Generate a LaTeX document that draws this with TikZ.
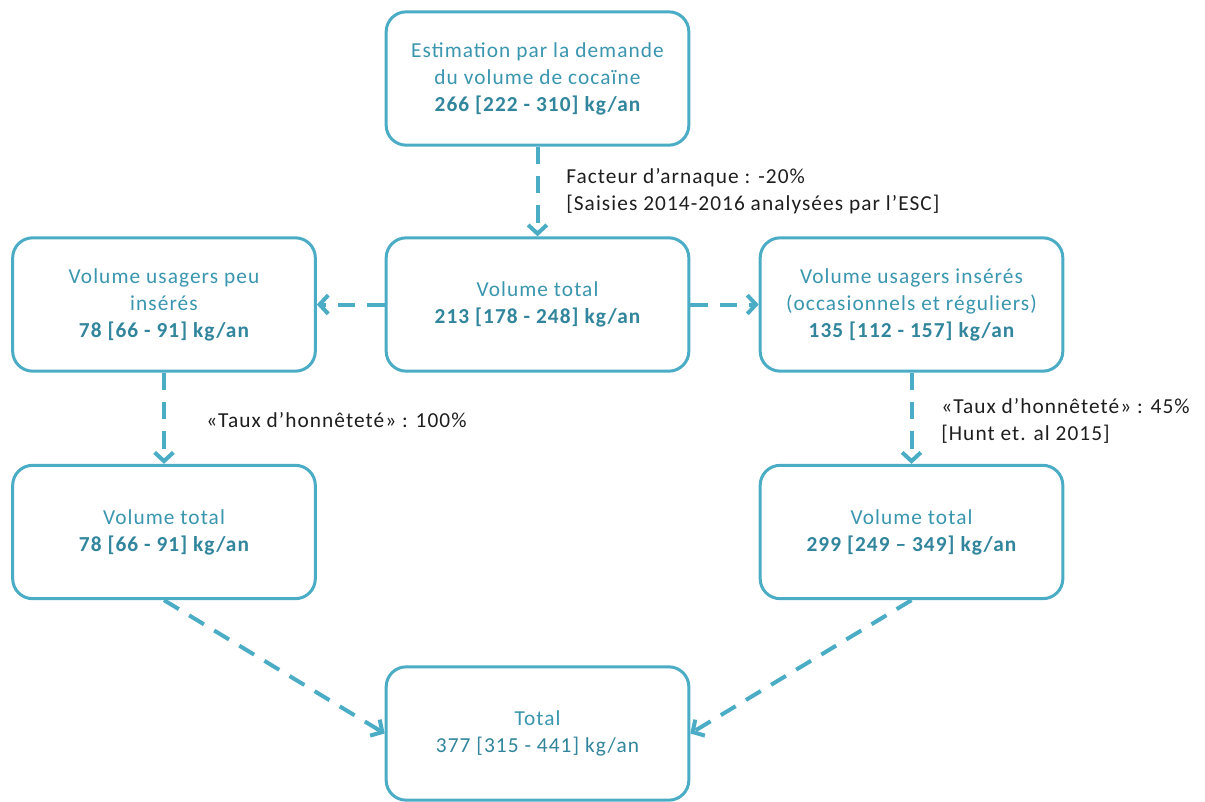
\documentclass[tikz,border=0pt]{standalone}
\usepackage{fontspec}
\setmainfont{Carlito}[LetterSpace=5]
\usetikzlibrary{arrows.meta}
\definecolor{boxline}{HTML}{4BACC6}
\definecolor{boxtext}{HTML}{3A96AF}
\definecolor{boxnum}{HTML}{31859C}
\definecolor{lbl}{HTML}{1E1E1E}
\begin{document}
\begin{tikzpicture}[x=0.75pt,y=-0.75pt,
  box/.style={draw=boxline, line width=2.25pt, rounded corners=15pt, fill=white,
    align=center, text=boxtext, inner sep=0pt,
    minimum width=227pt, minimum height=100pt,
    font=\fontsize{16}{20.25}\selectfont},
  lab/.style={anchor=west, align=left, text=lbl, inner sep=0pt,
    font=\fontsize{16}{20.25}\selectfont},
  conn/.style={draw=boxline, line width=3pt, dash pattern=on 13pt off 9pt,
    -{Straight Barb[length=6.5pt,width=14pt]}}]
\useasboundingbox (0,0) rectangle (1205,802);
\node[box] (top) at (537.5,78.5) {Estimation par la demande\\du volume de cocaïne\\\textbf{\color{boxnum}266 [222 - 310] kg/an}};
\node[box] (mid) at (537.5,304.5) {Volume total\\\textbf{\color{boxnum}213 [178 - 248] kg/an}};
\node[box] (left) at (164,304.5) {Volume usagers peu\\insérés\\\textbf{\color{boxnum}78 [66 - 91] kg/an}};
\node[box] (right) at (911.5,304.5) {Volume usagers insérés\\(occasionnels et réguliers)\\\textbf{\color{boxnum}135 [112 - 157] kg/an}};
\node[box] (bl) at (164,532) {Volume total\\\textbf{\color{boxnum}78 [66 - 91] kg/an}};
\node[box] (br) at (911.5,532) {Volume total\\\textbf{\color{boxnum}299 [249 – 349] kg/an}};
\node[box] (total) at (537.5,733.5) {Total\\{\color{boxnum}377 [315 - 441] kg/an}};
\draw[conn] (top) -- (mid);
\draw[conn] (mid) -- (left);
\draw[conn] (mid) -- (right);
\draw[conn] (left) -- (bl);
\draw[conn] (right) -- (br);
\draw[conn] (bl.south) -- (total.west);
\draw[conn] (br.south) -- (total.east);
\node[lab] (l1) at (566,191.5) {Facteur d’arnaque : -20\%\\{}[Saisies 2014-2016 analysées par l’ESC]};
\node[lab] (l2) at (206,420) {«Taux d’honnêteté» : 100\%};
\node[lab] (l3) at (941,420.5) {«Taux d’honnêteté» : 45\%\\{}[Hunt et. al 2015]};
\end{tikzpicture}
\end{document}
